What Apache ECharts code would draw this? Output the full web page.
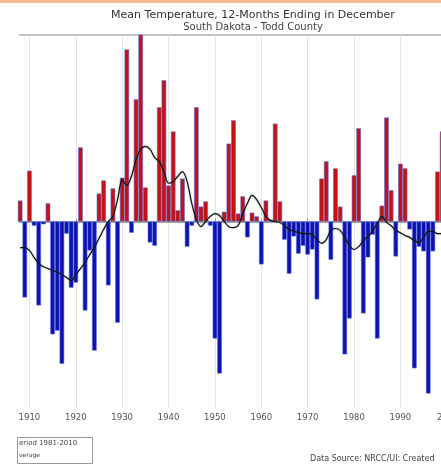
<!DOCTYPE html>
<html>
<head>
<meta charset="utf-8">
<script src="https://cdn.jsdelivr.net/npm/echarts@6/dist/echarts.min.js"></script>
<style>html,body{margin:0;padding:0;background:#fff}#c{width:441px;height:465px}</style>
</head>
<body>
<div id="c"></div>
<script>
var years = [1908,1909,1910,1911,1912,1913,1914,1915,1916,1917,1918,1919,1920,1921,1922,1923,1924,1925,1926,1927,1928,1929,
1930,1931,1932,1933,1934,1935,1936,1937,1938,1939,1940,1941,1942,1943,1944,1945,1946,1947,1948,1949,
1950,1951,1952,1953,1954,1955,1956,1957,1958,1959,1960,1961,1962,1963,1964,1965,1966,1967,1968,1969,
1970,1971,1972,1973,1974,1975,1976,1977,1978,1979,1980,1981,1982,1983,1984,1985,1986,1987,1988,1989,
1990,1991,1992,1993,1994,1995,1996,1997,1998,1999];
// departure from 1981-2010 normal (deg F)
var departures = [0.45,-1.63,1.09,-0.09,-1.80,-0.06,0.39,-2.42,-2.34,-3.05,-0.26,-1.42,-1.31,1.59,-1.91,-0.62,-2.77,0.60,0.88,-1.37,0.71,-2.17,
0.94,3.69,-0.24,2.62,4.10,0.73,-0.45,-0.52,2.45,3.03,0.77,1.93,0.24,0.92,-0.54,-0.09,2.45,0.32,0.43,-0.09,
-2.51,-3.26,0.21,1.67,2.17,0.17,0.54,-0.34,0.19,0.11,-0.92,0.45,0.04,2.10,0.43,-0.39,-1.12,-0.32,-0.69,-0.52,
-0.71,-0.60,-1.67,0.92,1.29,-0.82,1.14,0.32,-2.85,-2.08,0.99,2.00,-1.97,-0.77,-0.28,-2.51,0.34,2.23,0.67,-0.75,
1.24,1.14,-0.17,-3.15,-0.54,-0.64,-3.69,-0.64,1.07,1.93];
var movingAvg = [-0.56,-0.56,-0.62,-0.77,-0.90,-0.97,-1.01,-1.05,-1.09,-1.14,-1.20,-1.27,-1.14,-1.01,-0.88,-0.71,-0.56,-0.36,-0.17,0.00,0.11,0.47,
0.90,0.77,0.97,1.33,1.55,1.61,1.55,1.37,1.29,1.07,0.82,0.86,0.97,1.07,0.86,0.39,0.04,-0.11,0.00,0.11,
0.17,0.13,0.00,-0.11,-0.13,-0.09,0.17,0.39,0.56,0.47,0.30,0.11,0.02,0.00,-0.02,-0.09,-0.17,-0.21,-0.24,-0.26,
-0.26,-0.28,-0.39,-0.47,-0.39,-0.19,-0.15,-0.19,-0.34,-0.52,-0.60,-0.54,-0.41,-0.32,-0.21,-0.04,0.11,-0.02,-0.09,-0.19,
-0.24,-0.30,-0.34,-0.41,-0.45,-0.34,-0.21,-0.21,-0.26,-0.26];
var tickYears = [1910,1920,1930,1940,1950,1960,1970,1980,1990];
var titleText = 'Mean Temperature, 12-Months Ending in December';
var subtitleText = 'South Dakota - Todd County';

var barData = years.map(function(y,i){return [y, departures[i]];});
var lineData = years.map(function(y,i){return [y, movingAvg[i]];});

var chart = echarts.init(document.getElementById('c'), null, {renderer:'canvas'});
chart.setOption({
  animation:false,
  backgroundColor:'#fff',
  title:{text:titleText, subtext:subtitleText, left:248, textAlign:'center', top:5, itemGap:1,
    textStyle:{fontFamily:'DejaVu Sans', fontSize:11, fontWeight:'normal', color:'#333'},
    subtextStyle:{fontFamily:'DejaVu Sans', fontSize:10, color:'#444'}},
  grid:{left:19, right:0, top:35, bottom:57},
  xAxis:{type:'value', min:1907.75, max:1998.75,
    axisLine:{lineStyle:{color:'#888', width:1.5}},
    axisTick:{customValues:tickYears, length:3, inside:true, lineStyle:{color:'#999'}},
    axisLabel:{customValues:tickYears, formatter:function(v){return String(v);},
      fontFamily:'DejaVu Sans', fontSize:8.5, color:'#555', margin:5},
    splitLine:{show:true, lineStyle:{color:'#e4e4e4', width:1}}
  },
  yAxis:{type:'value', min:-4, max:4, axisLabel:{show:false}, axisTick:{show:false},
    axisLine:{show:false}, splitLine:{show:false}},
  series:[
    {type:'bar', data:barData, barWidth:4.6, clip:true,
      itemStyle:{color:function(p){return p.value[1]>=0?'#c81010':'#1010b0';},
        borderColor:function(p){return p.value[1]>=0?'#7a0000':'#000070';}, borderWidth:0.6}},
    {type:'line', data:lineData, showSymbol:false, smooth:0.3, clip:true,
      lineStyle:{color:'#111', width:1.2, shadowColor:'rgba(60,80,60,0.5)', shadowBlur:2}, z:5}
  ],
  graphic:[
    {type:'rect', shape:{x:0,y:0,width:441,height:3}, style:{fill:'#f4b98d'}},
    {type:'line', shape:{x1:19,y1:35,x2:441,y2:35}, style:{stroke:'#888', lineWidth:1.2}},
    {type:'text', x:437, y:413, style:{text:'2000', font:'8.5px DejaVu Sans', fill:'#555'}},
    {type:'rect', shape:{x:17.5,y:437.5,width:75,height:26}, style:{fill:'#fff', stroke:'#999', lineWidth:1}},
    {type:'text', x:19, y:440, style:{text:'eriod 1981-2010', font:'7px DejaVu Sans', fill:'#444'}},
    {type:'text', x:19, y:452, style:{text:'verage', font:'6px DejaVu Sans', fill:'#444'}},
    {type:'text', x:310, y:455, style:{text:'Data Source: NRCC/UI: Created', font:'8px DejaVu Sans', fill:'#444'}}
  ]
});
</script>
</body>
</html>
